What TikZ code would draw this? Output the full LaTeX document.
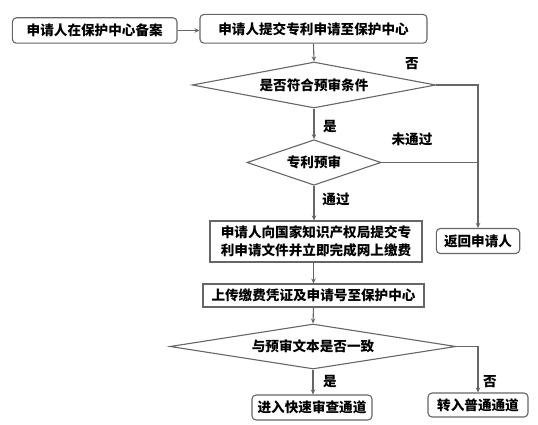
\documentclass[tikz,border=0pt]{standalone}
\usepackage{fontspec}
\setmainfont{Noto Sans CJK SC}
\usetikzlibrary{shapes.geometric,arrows.meta}
\definecolor{ln}{HTML}{666666}
\begin{document}
\begin{tikzpicture}[x=1pt,y=-1pt,
  font=\fontsize{13.6}{18}\selectfont\bfseries,
  every node/.style={inner sep=0pt},
  rbox/.style={draw=ln,line width=1.1pt,rounded corners=4pt,align=center},
  sbox/.style={draw=ln,line width=1.1pt,align=center},
  dia/.style={draw=ln,line width=1.1pt,diamond,inner sep=0pt},
  conn/.style={draw=ln,line width=1.1pt},
  arr/.style={conn,-{Stealth[length=5pt,width=4.5pt]}},
  lab/.style={inner sep=0pt}]
\useasboundingbox (0,0) rectangle (538,425);
\node[rbox,minimum width=164.6pt,minimum height=25.4pt] (b1) at (94.7,30.5) {申请人在保护中心备案};
\node[rbox,minimum width=227pt,minimum height=28.8pt] (b2) at (313.5,28.8) {申请人提交专利申请至保护中心};
\node[dia,aspect=5,minimum width=243.5pt,minimum height=46pt] (d1) at (314,85) {是否符合预审条件};
\node[dia,aspect=3,minimum width=134pt,minimum height=45.5pt] (d2) at (314,162.5) {专利预审};
\node[sbox,minimum width=212pt,minimum height=41pt] (b3) at (316,241.5) {申请人向国家知识产权局提交专\\利申请文件并立即完成网上缴费};
\node[rbox,minimum width=83.4pt,minimum height=25pt] (ret) at (478,241) {返回申请人};
\node[sbox,minimum width=221pt,minimum height=23pt] (b4) at (313.5,295.5) {上传缴费凭证及申请号至保护中心};
\node[dia,aspect=6,minimum width=286pt,minimum height=45pt] (d3) at (313,346.5) {与预审文本是否一致};
\node[rbox,minimum width=120pt,minimum height=25pt] (fast) at (312,407.5) {进入快速审查通道};
\node[rbox,minimum width=100pt,minimum height=24pt] (norm) at (478,405) {转入普通通道};
% connectors
\draw[arr] (b1.east) -- (b1.east -| b2.west);
\draw[arr] (b2.south) -- (d1.north);
\draw[arr] (d1.east) -| (ret.north);
\draw[conn] (d2.east) -- (d2.east -| ret.north);
\draw[arr] (d1.south) -- (d2.north);
\draw[arr] (d2.south) -- (d2.south |- b3.north);
\draw[arr] (b3.south -| b4.north) -- (b4.north);
\draw[arr] (b4.south) -- (d3.north);
\draw[arr] (d3.south) -- (d3.south |- fast.north);
\draw[arr] (d3.east) -| (norm.north);
% labels
\node[lab] (l1) at (412,63.5) {否};
\node[lab] (l2) at (330,127) {是};
\node[lab] (l3) at (412,139) {未通过};
\node[lab] (l4) at (336,199) {通过};
\node[lab] (l5) at (330,382) {是};
\node[lab] (l6) at (490,382) {否};
\end{tikzpicture}
\end{document}
